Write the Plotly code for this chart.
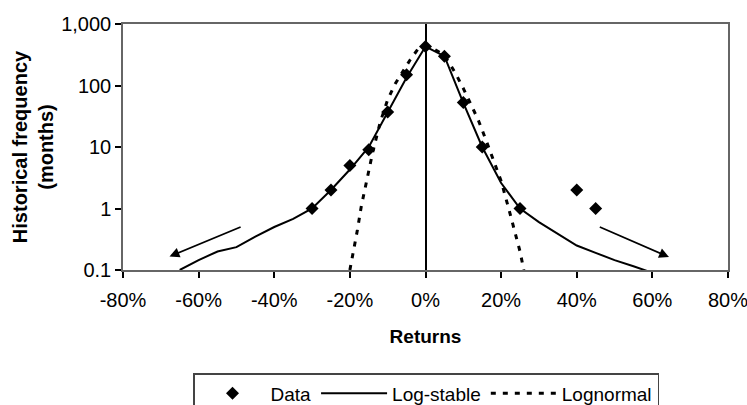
import plotly.graph_objects as go

# Monthly return frequencies: observed counts and two fitted distributions
returns_data = [-30, -25, -20, -15, -10, -5, 0, 5, 10, 15, 25, 40, 45]
freq_data = [1, 2, 5, 9, 37, 150, 430, 300, 53, 10, 1, 2, 1]

logstable_x = [-65, -60, -55, -50, -45, -40, -35, -30, -25, -20, -15, -10, -5, 0,
               5, 10, 15, 20, 25, 30, 35, 40, 45, 50, 55, 60]
logstable_y = [0.1, 0.145, 0.2, 0.235, 0.35, 0.5, 0.68, 1.0, 2.0, 4.3, 10, 36, 135, 430,
               300, 52, 10, 2.6, 1.0, 0.6, 0.39, 0.25, 0.19, 0.145, 0.115, 0.09]

lognormal_x = [-20, -19, -18, -17, -16, -15, -14, -12, -10, -8, -6, -4, -2, 0,
               2, 4, 6, 8, 10, 12, 14, 16, 18, 20, 22, 24, 25, 26]
lognormal_y = [0.1, 0.2, 0.45, 1.07, 2.1, 4.0, 8, 25, 59, 107, 170, 265, 390, 430,
               400, 340, 250, 155, 90, 50, 27, 13, 6.2, 2.8, 1.0, 0.33, 0.2, 0.1]

x_tickvals = [-80, -60, -40, -20, 0, 20, 40, 60, 80]
x_ticktext = ["-80%", "-60%", "-40%", "-20%", "0%", "20%", "40%", "60%", "80%"]
y_tickvals = [0.1, 1, 10, 100, 1000]
y_ticktext = ["0.1", "1", "10", "100", "1,000"]

FONT = "Liberation Sans, Arial, Helvetica, sans-serif"

fig = go.Figure()
fig.add_trace(go.Scatter(
    x=returns_data, y=freq_data, mode="markers", name="Data",
    marker=dict(symbol="diamond", size=10, color="black"),
))
fig.add_trace(go.Scatter(
    x=logstable_x, y=logstable_y, mode="lines", name="Log-stable",
    line=dict(color="black", width=2),
))
fig.add_trace(go.Scatter(
    x=lognormal_x, y=lognormal_y, mode="lines", name="Lognormal",
    line=dict(color="black", width=3, dash="5px,7px"),
))

# Arrows pointing to the extended tails
arrow = dict(xref="x", yref="y", axref="x", ayref="y", showarrow=True,
             arrowhead=2, arrowsize=1.1, arrowwidth=1.8, arrowcolor="black", text="")
fig.add_annotation(x=-67.7, y=-0.78, ax=-48.5, ay=-0.29, **arrow)
fig.add_annotation(x=64.4, y=-0.79, ax=45.7, ay=-0.29, **arrow)

fig.update_layout(
    width=747, height=405,
    margin=dict(l=123, r=19, t=24, b=135, autoexpand=False),
    paper_bgcolor="white", plot_bgcolor="white",
    font=dict(family=FONT, size=20, color="black"),
    showlegend=True,
    legend=dict(
        orientation="h", xref="container", x=193 / 747, xanchor="left",
        yref="container", y=(405 - 373) / 405, yanchor="top",
        bordercolor="#444", borderwidth=1.5,
        font=dict(size=19), itemwidth=66, traceorder="normal",
    ),
    xaxis=dict(
        range=[-80, 80], tickvals=x_tickvals, ticktext=x_ticktext,
        ticks="outside", ticklen=6, tickcolor="black", tickwidth=1.5,
        ticklabelstandoff=5, ticklabeloverflow="allow",
        showline=True, linecolor="#666", linewidth=1.5, mirror=True,
        showgrid=False, zeroline=True, zerolinecolor="black", zerolinewidth=2,
        title=dict(text="<b>Returns</b>", font=dict(size=19), standoff=20),
        tickfont=dict(size=20),
    ),
    yaxis=dict(
        type="log", range=[-1, 3], tickvals=y_tickvals, ticktext=y_ticktext,
        ticks="outside", ticklen=6, tickcolor="black", tickwidth=1.5,
        showline=True, linecolor="#666", linewidth=1.5, mirror=True,
        showgrid=False, zeroline=False,
        title=dict(text="<b>Historical frequency<br>(months)</b>", font=dict(size=20), standoff=2),
        tickfont=dict(size=20),
    ),
)

fig.write_html("out.html")
